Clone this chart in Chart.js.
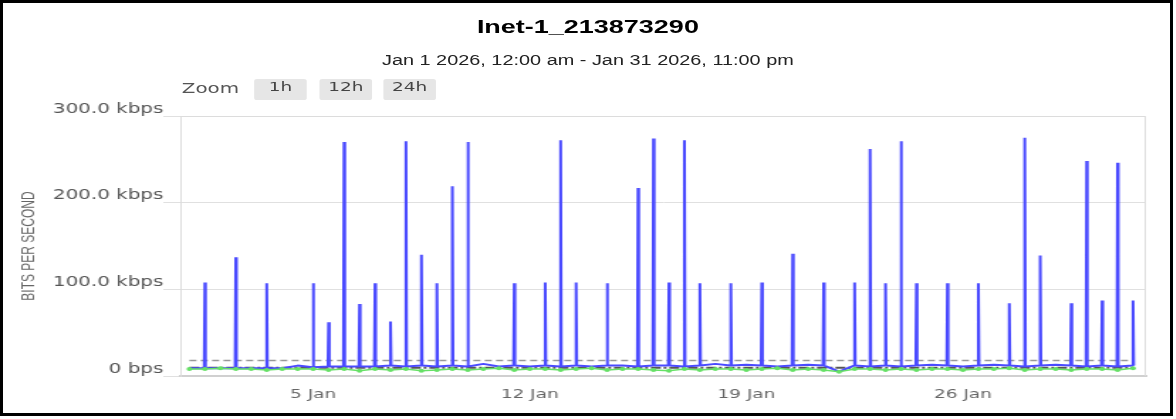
<!DOCTYPE html>
<html>
<head>
<meta charset="utf-8">
<title>Inet-1_213873290</title>
<script src="https://cdn.jsdelivr.net/npm/chart.js@4.4.1/dist/chart.umd.min.js"></script>
<style>
  html, body { margin: 0; padding: 0; background: #fff; }
  body { width: 1176px; height: 419px; overflow: hidden; position: relative; }
  #frame { position: absolute; left: 0; top: 0; width: 1167px; height: 410px; border: 3px solid #000; z-index: 2; }
  /* the report is laid out at 828px and widened to the page */
  #stage { position: absolute; left: 0; top: 0; width: 828px; height: 419px; transform: scaleX(1.42); transform-origin: 0 0; }
  #title { position: absolute; left: 0; top: 17px; width: 828px; text-align: center; font: bold 19px "Liberation Sans", Arial, sans-serif; line-height: 20px; color: #000; }
  #subtitle { position: absolute; left: 0; top: 52px; width: 828px; text-align: center; font: 14px "Liberation Sans", Arial, sans-serif; line-height: 16px; color: #222; }
  #zoomLabel { position: absolute; left: 128px; top: 78px; font: 14px "DejaVu Sans", sans-serif; line-height: 21px; color: #555; }
  .btn { position: absolute; top: 79px; width: 37px; height: 21px; line-height: 21px; background: #e6e6e6; border-radius: 2px; text-align: center; font: 13px "DejaVu Sans", sans-serif; color: #444; }
  canvas { position: absolute; left: 0; top: 0; }
</style>
</head>
<body>
<div id="frame"></div>
<div id="stage">
  <div id="title">Inet-1_213873290</div>
  <div id="subtitle">Jan 1 2026, 12:00 am - Jan 31 2026, 11:00 pm</div>
  <div id="zoomLabel">Zoom</div>
  <div class="btn" style="left:179px">1h</div>
  <div class="btn" style="left:225px">12h</div>
  <div class="btn" style="left:270px">24h</div>
  <canvas id="trafficChart" width="828" height="419"></canvas>
</div>
<script>
// --- Data (hours since Jan 1 2026 00:00) ---
const slotHours = [
    0,  12,  24,  36,  48,  60,  72,  84,  96, 108,
  120, 132, 144, 156, 168, 180, 192, 204, 216, 228,
  240, 252, 264, 276, 288, 300, 312, 324, 336, 348,
  360, 372, 384, 396, 408, 420, 432, 444, 456, 468,
  480, 492, 504, 516, 528, 540, 552, 564, 576, 588,
  600, 612, 624, 636, 648, 660, 672, 684, 696, 708,
  720, 732
];

// inbound traffic between bursts (kbps)
const inBaseKbps = [
   9,  9,  9,  9,  9,  9,  9, 12, 10, 11,
  11, 11, 11, 12, 11, 12, 11, 12, 11, 14,
  11, 12, 11, 12, 11, 12, 11, 12, 12, 11,
  12, 12, 11, 12, 14, 12, 13, 12, 11, 12,
  13, 12,  5, 12, 11, 12, 11, 12, 13, 12,
  11, 12, 13, 12, 11, 12, 13, 12, 11, 12,
  11, 12
];

// inbound bursts
const spikeHours = [
   12,  36,  60,  96, 108, 120, 132, 144, 156, 168,
  180, 192, 204, 216, 252, 276, 288, 300, 324, 348,
  360, 372, 384, 396, 420, 444, 468, 492, 516, 528,
  540, 552, 564, 588, 612, 636, 648, 660, 684, 696,
  708, 720, 732
];
const spikeKbps = [
  108, 137, 107, 107,  62, 270,  83, 107,  63, 271,
  140, 107, 219, 270, 107, 108, 272, 108, 107, 217,
  274, 108, 272, 107, 107, 108, 141, 108, 108, 262,
  107, 271, 107, 107, 107,  84, 275, 139,  84, 248,
   87, 246,  87
];

// outbound traffic (kbps)
const outKbps = [
  8, 8, 9, 8, 8, 7, 8, 8, 8, 7,
  8, 6, 8, 7, 8, 6, 7, 8, 7, 8,
  9, 7, 8, 8, 7, 8, 9, 7, 8, 8,
  7, 6, 8, 7, 8, 8, 7, 8, 9, 7,
  8, 7, 5, 8, 8, 7, 8, 7, 8, 8,
  7, 8, 8, 9, 7, 8, 8, 7, 8, 8,
  7, 9
];

const percentileKbps = 18;
const averageKbps = 9.5;

const xTickHours  = [96, 264, 432, 600];
const xTickLabels = ['5 Jan', '12 Jan', '19 Jan', '26 Jan'];
const yTicks      = [0, 100, 200, 300];
const yTickLabels = ['0 bps', '100.0 kbps', '200.0 kbps', '300.0 kbps'];

// --- Build series ---
const inTraffic = [];
slotHours.forEach((h, i) => {
  const k = spikeHours.indexOf(h);
  if (k === -1) {
    inTraffic.push({ x: h, y: inBaseKbps[i] });
  } else {
    inTraffic.push({ x: h - 0.5, y: inBaseKbps[i] }, { x: h, y: spikeKbps[k] }, { x: h + 0.5, y: inBaseKbps[i] });
  }
});
const outTraffic = slotHours.map((h, i) => ({ x: h, y: outKbps[i] }));
const first = slotHours[0], last = slotHours[slotHours.length - 1];

// plot frame (top + right edges)
const framePlugin = {
  id: 'plotFrame',
  beforeDatasetsDraw(chart) {
    const { ctx, chartArea: a } = chart;
    ctx.save();
    ctx.strokeStyle = '#dcdcdc';
    ctx.lineWidth = 1;
    ctx.beginPath();
    ctx.moveTo(a.left, a.top + 0.5);
    ctx.lineTo(a.right - 0.5, a.top + 0.5);
    ctx.lineTo(a.right - 0.5, a.bottom);
    ctx.stroke();
    ctx.restore();
  }
};

new Chart(document.getElementById('trafficChart'), {
  type: 'line',
  data: {
    datasets: [
      {
        label: 'Out',
        data: outTraffic,
        borderColor: '#66e066',
        borderWidth: 1.5,
        pointRadius: 2,
        pointBackgroundColor: '#66e066',
        pointBorderWidth: 0,
      },
      {
        label: 'In',
        data: inTraffic,
        borderColor: '#4a4aff',
        borderWidth: 2,
        borderJoinStyle: 'bevel',
        pointRadius: 0,
      },
      {
        label: 'Average',
        data: [{ x: first, y: averageKbps }, { x: last, y: averageKbps }],
        borderColor: '#555',
        borderWidth: 2,
        borderDash: [7, 2, 2, 2],
        pointRadius: 0,
      },
      {
        label: '95th percentile',
        data: [{ x: first, y: percentileKbps }, { x: last, y: percentileKbps }],
        borderColor: '#999',
        borderWidth: 1.5,
        borderDash: [5, 3],
        pointRadius: 0,
      },
    ],
  },
  options: {
    responsive: false,
    animation: false,
    layout: { padding: { top: 116, right: 21, bottom: 13, left: 0 } },
    plugins: { legend: { display: false }, tooltip: { enabled: false } },
    scales: {
      x: {
        type: 'linear',
        min: -7,
        max: 742,
        afterBuildTicks: axis => { axis.ticks = xTickHours.map(v => ({ value: v })); },
        afterFit: axis => { axis.height = 30; },
        ticks: {
          callback: (v, i) => xTickLabels[i],
          color: '#666',
          font: { family: 'DejaVu Sans', size: 13 },
          maxRotation: 0,
          autoSkip: false,
          padding: 11,
        },
        grid: { display: false, drawTicks: false },
        border: { color: '#d0d0d0', width: 2 },
      },
      y: {
        min: 0,
        max: 300,
        afterBuildTicks: axis => { axis.ticks = yTicks.map(v => ({ value: v })); },
        afterFit: axis => { axis.width = 127; },
        ticks: {
          callback: (v, i) => yTickLabels[i],
          labelOffset: -7,
          padding: 0,
          color: '#555',
          font: { family: 'DejaVu Sans', size: 14 },
        },
        grid: { color: '#e0e0e0', tickColor: '#e0e0e0', tickLength: 12 },
        border: { color: '#dcdcdc' },
        title: {
          display: true,
          text: 'BITS PER SECOND',
          color: '#666',
          font: { family: 'Liberation Sans', size: 12 },
          padding: { top: 13, bottom: 0 },
        },
      },
    },
  },
  plugins: [framePlugin],
});
</script>
</body>
</html>
